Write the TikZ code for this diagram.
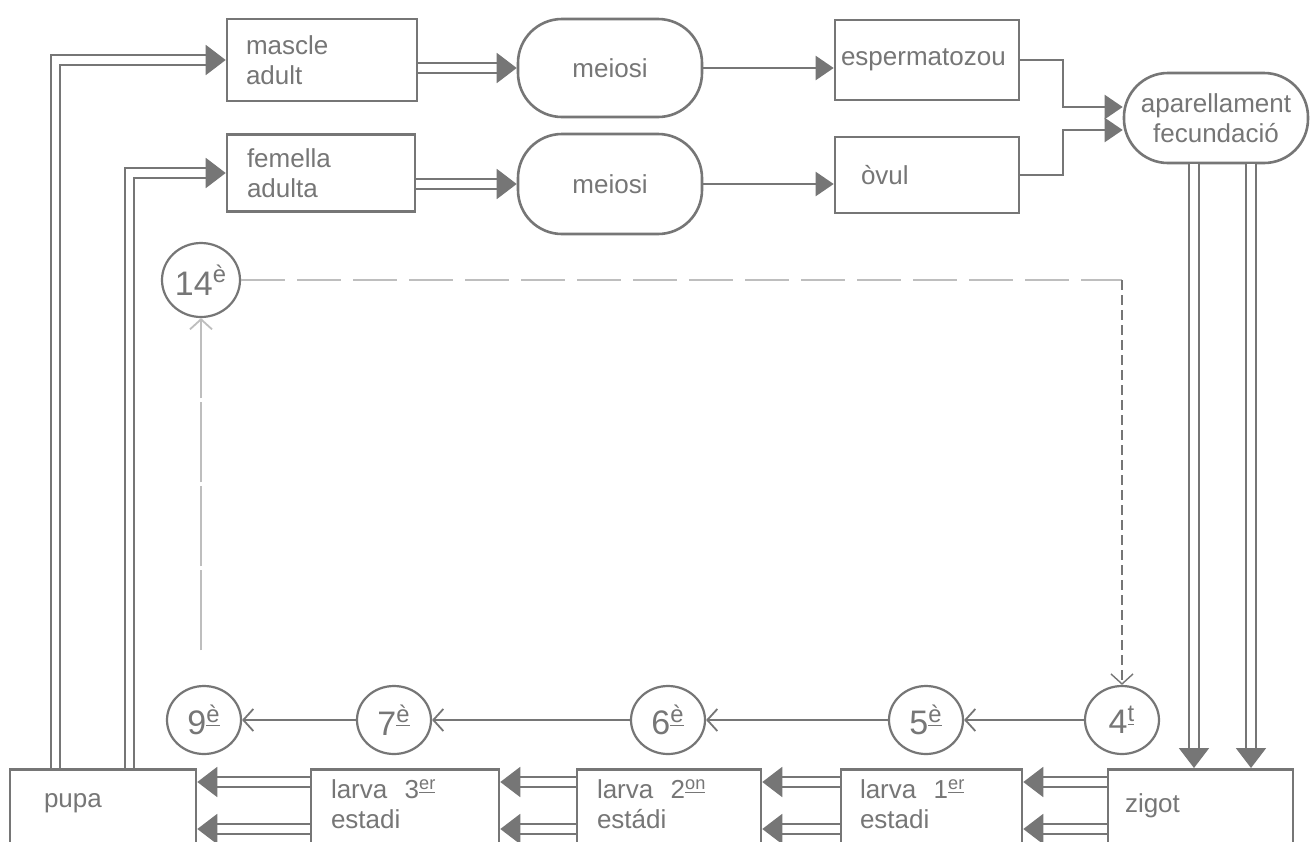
\documentclass[tikz,border=0pt]{standalone}
\usepackage{fontspec}
\setmainfont{Liberation Sans}
\usetikzlibrary{arrows.meta,shapes.geometric}
\definecolor{ink}{RGB}{118,118,118}
\definecolor{faint}{RGB}{190,190,190}
\newcommand{\ord}[1]{\textsuperscript{\underline{#1}}}

\begin{document}
\begin{tikzpicture}[x=0.5pt,y=-0.5pt,font=\fontsize{13}{15}\selectfont,
 draw=ink,text=ink,
 box/.style={draw=ink,line width=1.3pt,rectangle,align=left,inner ysep=0pt},
 baix/.style={box,anchor=north,inner ysep=5pt,text depth=45pt},
 stadi/.style={draw=ink,line width=1.3pt,rectangle,rounded corners=22pt,align=center,minimum width=92pt},
 dia/.style={draw=ink,line width=1.1pt,ellipse,minimum width=37pt,minimum height=34pt,inner sep=0pt,font=\fontsize{17}{18}\selectfont},
 dbl/.style={draw=ink,double=white,double distance=3.6pt,line width=1pt,-{Triangle[length=10pt,width=15pt]}},
 arr/.style={draw=ink,line width=1.1pt,-{Triangle[length=9pt,width=12pt]}},
 obert/.style={draw=ink,line width=0.9pt,-{Straight Barb[length=5pt,width=11pt]}}]
\useasboundingbox[fill=white] (0,0) rectangle (1314,842);
%
\node[box,minimum width=95pt,minimum height=41pt,inner xsep=9.5pt,text width=76pt] (mascle) at (322,60) {mascle\\adult};
\node[box,minimum width=94pt,minimum height=38.5pt,inner xsep=10pt,text width=74pt] (femella) at (321,173) {femella\\adulta};
\node[stadi,minimum height=49pt] (m1) at (610,68) {meiosi};
\node[stadi,minimum height=50pt] (m2) at (610,184) {meiosi};
\node[box,minimum width=92pt,minimum height=40pt,inner xsep=3pt,text width=86pt] (esp) at (927,60) {espermatozou};
\node[box,minimum width=92pt,minimum height=38pt,inner xsep=13pt,text width=66pt] (ovul) at (927,175) {òvul};
\node[stadi,minimum height=45pt,inner xsep=2pt] (apar) at (1216,118) {aparellament\\fecundació};
%
\node[baix,minimum width=93pt,inner xsep=17pt,text width=59pt,inner ysep=12pt] (pupa) at (103,768) {pupa};
\node[baix,minimum width=94pt,inner xsep=10pt,text width=74pt] (l3) at (405,768) {larva\ \ 3\ord{er}\\estadi};
\node[baix,minimum width=92pt,inner xsep=10pt,text width=72pt] (l2) at (669,768) {larva\ \ 2\ord{on}\\estádi};
\node[baix,minimum width=90.5pt,inner xsep=9.5pt,text width=71.5pt] (l1) at (931.5,768) {larva\ \ 1\ord{er}\\estadi};
\node[baix,minimum width=92.5pt,inner xsep=8.5pt,text width=75.5pt,inner ysep=12pt] (zigot) at (1200.5,768) {zigot};
%
\node[dia,minimum width=39pt,minimum height=37pt] (c14) at (201,280) {14\textsuperscript{è}};
\node[dia] (c9) at (204,720) {9\ord{è}};
\node[dia] (c7) at (394,720) {7\ord{è}};
\node[dia] (c6) at (668,720) {6\ord{è}};
\node[dia] (c5) at (926,720) {5\ord{è}};
\node[dia] (c4) at (1122,720) {4\ord{t}};
\coordinate (esvaeix) at (201,650);
%
\draw[dbl] ([xshift=23.5pt]pupa.north west) |- (mascle);
\draw[dbl] ([xshift=60.5pt]pupa.north west) |- (femella);
\draw[dbl] (mascle.east |- m1) -- (m1);
\draw[dbl] (femella.east |- m2) -- (m2);
\draw[arr] (m1) -- (m1 -| esp.west);
\draw[arr] (m2) -- (m2 -| ovul.west);
\draw[arr] (esp.east) -- ++(43,0) |- ([yshift=5.5pt]apar.west);
\draw[arr] (ovul.east) -- ++(43,0) |- ([yshift=-6pt]apar.west);
\draw[dbl] ([xshift=-11pt]apar.south) -- ([xshift=-11pt]apar.south |- zigot.north);
\draw[dbl] ([xshift=17.5pt]apar.south) -- ([xshift=17.5pt]apar.south |- zigot.north);
%
\foreach \a/\b in {zigot/l1,l1/l2,l2/l3,l3/pupa}
 {\draw[dbl] ([yshift=-7pt]\a.north west) -- ([yshift=-7pt]\b.north east);
  \draw[dbl] ([yshift=-30.5pt]\a.north west) -- ([yshift=-30.5pt]\b.north east);}
\foreach \a/\b in {c4/c5,c5/c6,c6/c7,c7/c9}
 \draw[obert] (\a) -- (\b);
%
\draw[draw=faint,line width=1pt,dash pattern=on 22pt off 6pt] (c14) -- (c14 -| c4);
\draw[obert,dash pattern=on 5pt off 2.5pt,line width=0.7pt] (c14 -| c4) -- (c4);
\draw[obert,draw=faint,dash pattern=on 40pt off 2pt] (esvaeix) -- (c14);
\end{tikzpicture}
\end{document}
